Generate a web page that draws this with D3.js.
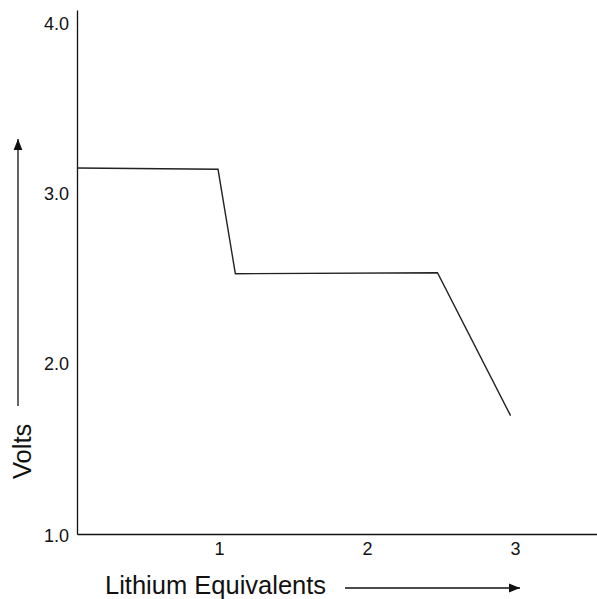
<!DOCTYPE html>
<html>
<head>
<meta charset="utf-8">
<script src="https://cdn.jsdelivr.net/npm/d3@7"></script>
<style>
  body { margin: 0; background: #fff; }
  text { font-family: "Liberation Sans", Arial, sans-serif; }
</style>
</head>
<body>
<div class="canvas"></div>
<script>
// data
const lithium = [0.04, 0.993, 1.11, 2.476, 2.97];
const volts = [3.153, 3.145, 2.531, 2.537, 1.696];
const xTicks = [1, 2, 3];
const yTicks = [1, 2, 3, 4];

const W = 597, H = 599;

const svg = d3.select(".canvas")
  .append("svg")
    .attr("width", W)
    .attr("height", H);

// scales
const x = d3.scaleLinear().domain([0.04, 3.554]).range([77, 597]);
const y = d3.scaleLinear().domain([1, 4.082]).range([534, 10]);

// y axis
const yAxis = svg.append("g")
    .attr("transform", `translate(${x(0.04)},0)`)
    .call(d3.axisLeft(y).tickValues(yTicks).tickSize(0).tickSizeOuter(0).tickPadding(8).tickFormat(d3.format(".1f")));

// x axis
const xAxis = svg.append("g")
    .attr("transform", `translate(0,${y(1)})`)
    .call(d3.axisBottom(x).tickValues(xTicks).tickSize(0).tickSizeOuter(0).tickPadding(6).tickFormat(d3.format("d")));

[yAxis, xAxis].forEach(g => {
  g.select(".domain").attr("stroke", "#111").attr("stroke-width", 1.3);
  g.selectAll("text").style("font-size", "18px").attr("fill", "#111");
});
xAxis.selectAll(".tick text").attr("dy", "0.85em");
yAxis.selectAll(".tick").filter(d => d === 1).select("text").attr("dy", "0.4em");

// the curve
const pts = lithium.map((d, i) => [d, volts[i]]);
svg.append("path")
    .datum(pts)
    .attr("fill", "none")
    .attr("stroke", "#222")
    .attr("stroke-width", 1.4)
    .attr("d", d3.line().x(d => x(d[0])).y(d => y(d[1])));

// arrow head
svg.append("defs").append("marker")
    .attr("id", "head")
    .attr("viewBox", "0 0 10 10")
    .attr("refX", 10).attr("refY", 5)
    .attr("markerWidth", 11).attr("markerHeight", 11)
    .attr("markerUnits", "userSpaceOnUse")
    .attr("orient", "auto")
  .append("path")
    .attr("d", "M0,1L10,5L0,9Z")
    .attr("fill", "#111");

// axis titles
svg.append("text")
    .attr("x", 105)
    .attr("y", 594)
    .style("font-size", "25.5px")
    .attr("fill", "#111")
    .text("Lithium Equivalents");

svg.append("line")
    .attr("x1", 345).attr("y1", 588)
    .attr("x2", 520).attr("y2", 588)
    .attr("stroke", "#111").attr("stroke-width", 1.3)
    .attr("marker-end", "url(#head)");

svg.append("text")
    .attr("transform", "translate(31,479) rotate(-90)")
    .style("font-size", "25.5px")
    .attr("fill", "#111")
    .text("Volts");

svg.append("line")
    .attr("x1", 18).attr("y1", 406)
    .attr("x2", 18).attr("y2", 139)
    .attr("stroke", "#111").attr("stroke-width", 1.3)
    .attr("marker-end", "url(#head)");
</script>
</body>
</html>
